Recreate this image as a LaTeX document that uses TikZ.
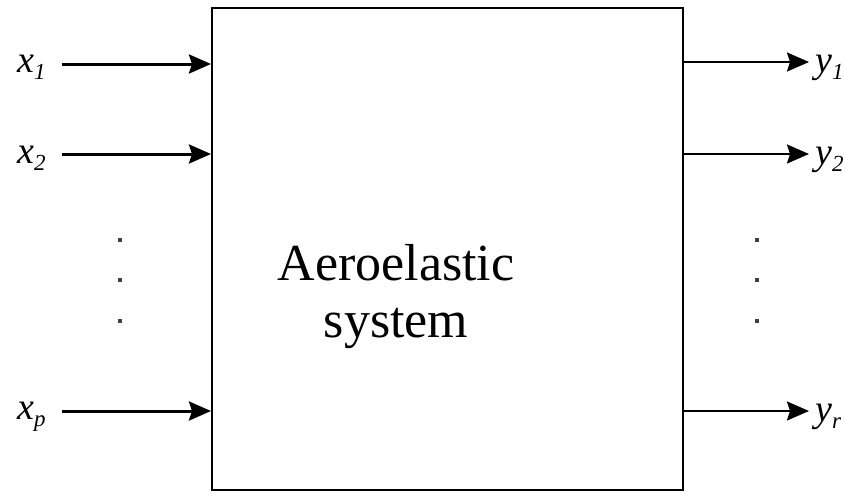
\documentclass[tikz,border=0pt]{standalone}
\usepackage{fontspec}
\setmainfont{Liberation Serif}
\usetikzlibrary{arrows.meta}

\newcommand{\sig}[2]{\textit{#1}\raisebox{-7pt}{\fontsize{23}{23}\selectfont\itshape #2}}

\begin{document}
\begin{tikzpicture}[x=1pt,y=-1pt,
  sysbox/.style={draw,line width=2pt,minimum width=471pt,minimum height=482pt,inner sep=0pt},
  inarrow/.style={line width=3pt,-{Stealth[length=22pt,width=19pt,inset=3pt]}},
  outarrow/.style={line width=2.2pt,-{Stealth[length=22pt,width=19pt,inset=3pt]}},
  siglabel/.style={anchor=base west,inner sep=0pt,font=\fontsize{38}{40}\selectfont},
  vdot/.style={rectangle,fill=black!75,inner sep=0pt,minimum size=3.5pt}]
\path[use as bounding box] (0,0) rectangle (845,491);
\node[sysbox] (sys) at (447.5,249) {};
\node[anchor=base,inner sep=0pt,align=center,font=\fontsize{52}{57}\selectfont] (title) at (396,337) {Aeroelastic\\system};
% inputs
\node[siglabel] (x1) at (17,72) {\sig{x}{1}};
\node[siglabel] (x2) at (17,163) {\sig{x}{2}};
\node[siglabel] (xp) at (17,419) {\sig{x}{p}};
\coordinate (in1) at (62,64);
\coordinate (in2) at (62,154);
\coordinate (inp) at (62,411);
\draw[inarrow] (in1) -- (in1 -| sys.west);
\draw[inarrow] (in2) -- (in2 -| sys.west);
\draw[inarrow] (inp) -- (inp -| sys.west);
% outputs
\coordinate (out1) at (809,62);
\coordinate (out2) at (809,154);
\coordinate (outr) at (809,411);
\draw[outarrow] (out1 -| sys.east) -- (out1);
\draw[outarrow] (out2 -| sys.east) -- (out2);
\draw[outarrow] (outr -| sys.east) -- (outr);
\node[siglabel] (y1) at (815,72) {\sig{y}{1}};
\node[siglabel] (y2) at (815,164) {\sig{y}{2}};
\node[siglabel] (yr) at (815,421) {\sig{y}{r}};
% dots
\foreach \yy [count=\i] in {240,280,321} {
  \node[vdot] (ldot\i) at (120,\yy) {};
  \node[vdot] (rdot\i) at (757,\yy) {};
}
\end{tikzpicture}
\end{document}
